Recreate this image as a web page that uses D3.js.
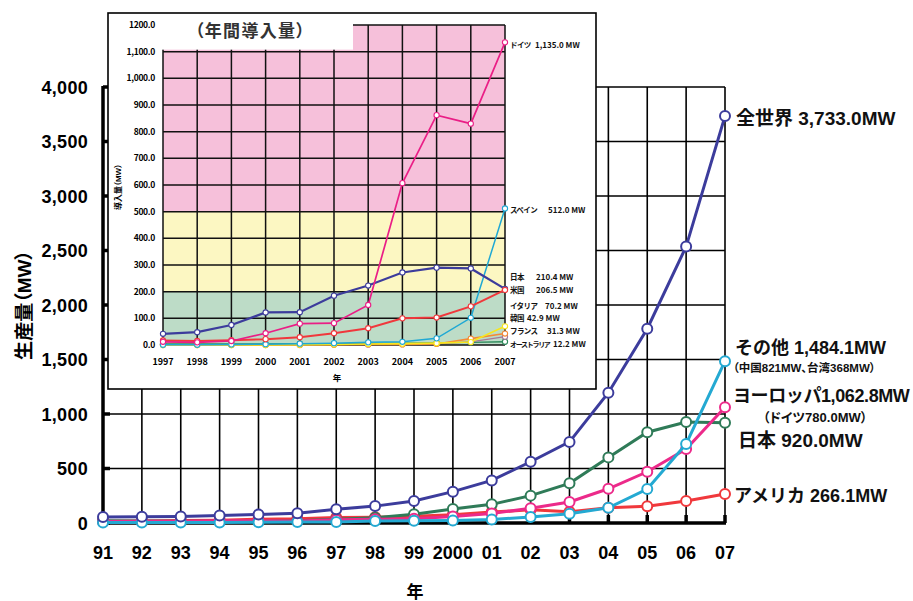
<!DOCTYPE html>
<html><head><meta charset="utf-8">
<script src="https://cdn.jsdelivr.net/npm/d3@7"></script>
<style>
html,body{margin:0;padding:0;background:#fff;}
svg{display:block;font-family:"Liberation Sans","Noto Sans CJK JP",sans-serif;}
.palt{font-feature-settings:"palt";}
</style></head>
<body><svg id="chart" width="913" height="601"></svg>
<script>
// ---------- main chart data (cell production, MW) ----------
const mainYears = ["91","92","93","94","95","96","97","98","99","2000","01","02","03","04","05","06","07"];
const world  = [55.3,57.9,60.1,69.4,77.6,88.6,125.8,154.9,201.3,287.7,390.5,561.8,744.1,1195,1782,2536,3733.0];
const japan  = [19.9,18.8,16.7,16.5,16.4,21.2,35,49,80,128.6,171.2,251.1,363.9,602,833,926,920.0];
const europe = [13.4,16.4,16.6,21.7,20.1,18.8,30.4,33.5,40,60.7,86.4,135,193,314,470,678,1062.8];
const america= [17.1,18.1,22.4,25.6,34.8,38.9,51,53.7,60.8,75,100.3,120.6,103,139,154,202,266.1];
const others = [4.9,4.6,4.4,5.6,6.3,9.7,9.4,18.7,20.5,23.4,32.6,55.1,84.2,140,312,725,1484.1];
const mainYTicks = [0,500,1000,1500,2000,2500,3000,3500,4000];
const mainYTickLabels = ["0","500","1,000","1,500","2,000","2,500","3,000","3,500","4,000"];

// ---------- inset data (annual installations, MW) ----------
const insetYears = ["1997","1998","1999","2000","2001","2002","2003","2004","2005","2006","2007"];
const deGermany  = [12,10,15,44,80,82,150,607,862,830,1135.0];
const esSpain    = [1,1,2,3,5,7,10,12,25,102,512.0];
const jpJapan    = [42,48,75,122,123,185,223,272,290,287,210.4];
const usUSA      = [17,15,18,22,29,44,63,100,103,145,206.5];
const itItaly    = [0,0,0,0,1,2,4,5,7,11,70.2];
const krKorea    = [0,0,0,0,0,1,2,2,4,24,42.9];
const frFrance   = [1,1,1,1,1,2,2,3,5,12,31.3];
const auAustralia= [4,4,4,4,5,5,6,7,8,10,12.2];
const insetYTicks = [0,100,200,300,400,500,600,700,800,900,1000,1100,1200];
const insetYTickLabels = ["0.0","100.0","200.0","300.0","400.0","500.0","600.0","700.0","800.0","900.0","1,000.0","1,100.0","1200.0"];

const svg = d3.select("#chart");

// ================= MAIN CHART =================
const x = d3.scalePoint().domain(mainYears).range([103, 725]);
const y = d3.scaleLinear().domain([0, 4000]).range([523, 87]);

const grid = svg.append("g");
grid.selectAll(".vg").data(mainYears).join("line")
  .attr("x1", d => x(d)).attr("x2", d => x(d))
  .attr("y1", y(4000)).attr("y2", y(0))
  .attr("stroke", "#000").attr("stroke-width", 1.6);
grid.selectAll(".hg").data(mainYTicks).join("line")
  .attr("x1", x.range()[0]).attr("x2", x.range()[1])
  .attr("y1", d => y(d)).attr("y2", d => y(d))
  .attr("stroke", "#000").attr("stroke-width", 1.6);
// thick axes + inward ticks
svg.append("line").attr("x1", x.range()[0]).attr("x2", x.range()[0]).attr("y1", y(4000)-1).attr("y2", y(0)+1.5)
  .attr("stroke", "#000").attr("stroke-width", 3.5);
svg.append("line").attr("x1", x.range()[0]).attr("x2", x.range()[1]+1).attr("y1", y(0)).attr("y2", y(0))
  .attr("stroke", "#000").attr("stroke-width", 3.5);
svg.append("g").selectAll("line").data(mainYTicks).join("line")
  .attr("x1", x.range()[0]).attr("x2", x.range()[0]+7)
  .attr("y1", d => y(d)).attr("y2", d => y(d)).attr("stroke", "#000").attr("stroke-width", 3.5);
svg.append("g").selectAll("line").data(mainYears).join("line")
  .attr("x1", d => x(d)).attr("x2", d => x(d))
  .attr("y1", y(0)).attr("y2", y(0)-8).attr("stroke", "#000").attr("stroke-width", 3.5);

// tick labels
svg.append("g").selectAll("text").data(mainYTicks).join("text")
  .attr("x", 88).attr("y", d => y(d) + 6.5)
  .attr("text-anchor", "end").attr("font-size", 18).attr("font-weight", "bold")
  .attr("letter-spacing", 0.3)
  .text((d, i) => mainYTickLabels[i]);
svg.append("g").selectAll("text").data(mainYears).join("text")
  .attr("x", d => x(d)).attr("y", 559)
  .attr("text-anchor", "middle").attr("font-size", 18).attr("font-weight", "bold")
  .text(d => d);
svg.append("text").attr("x", 415).attr("y", 598).attr("text-anchor", "middle")
  .attr("font-size", 17).attr("font-weight", "bold").text("年");
svg.append("text").attr("class", "palt")
  .attr("transform", "translate(31,305) rotate(-90)").attr("text-anchor", "middle")
  .attr("font-size", 19).attr("font-weight", "bold").text("生産量（MW）");

// series
const mainSeries = [
  {name: "アメリカ", values: america, color: "#f0383c"},
  {name: "日本", values: japan, color: "#2f7b58"},
  {name: "ヨーロッパ", values: europe, color: "#ec2a8a"},
  {name: "その他", values: others, color: "#24a9d2"},
  {name: "全世界", values: world, color: "#3c3c9c"}
];
const mline = d3.line().x((d, i) => x(mainYears[i])).y(d => y(d));
mainSeries.forEach(s => {
  const g = svg.append("g");
  g.append("path").attr("d", mline(s.values)).attr("fill", "none")
    .attr("stroke", s.color).attr("stroke-width", 3);
  g.selectAll("circle").data(s.values).join("circle")
    .attr("cx", (d, i) => x(mainYears[i])).attr("cy", d => y(d)).attr("r", 5)
    .attr("fill", "#fff").attr("stroke", s.color).attr("stroke-width", 2);
});

// right-hand labels
const rl = svg.append("g").attr("font-weight", "bold").attr("fill", "#111");
rl.append("text").attr("x", 736).attr("y", 125).attr("font-size", 19).text("全世界 3,733.0MW");
rl.append("text").attr("x", 735).attr("y", 354).attr("font-size", 18).text("その他 1,484.1MW");
rl.append("text").attr("class", "palt").attr("x", 733).attr("y", 372).attr("font-size", 11.5).text("（中国821MW、台湾368MW）");
rl.append("text").attr("x", 733).attr("y", 402).attr("font-size", 18).attr("letter-spacing", -0.4).text("ヨーロッパ1,062.8MW");
rl.append("text").attr("class", "palt").attr("x", 763).attr("y", 422).attr("font-size", 13).text("（ドイツ780.0MW）");
rl.append("text").attr("x", 738).attr("y", 447).attr("font-size", 19).text("日本 920.0MW");
rl.append("text").attr("x", 734).attr("y", 502).attr("font-size", 18).text("アメリカ 266.1MW");

// ================= INSET =================
const ins = svg.append("g");
ins.append("rect").attr("x", 108).attr("y", 13).attr("width", 488).attr("height", 376)
  .attr("fill", "#fff").attr("stroke", "#000").attr("stroke-width", 1.6);

const ix = d3.scalePoint().domain(insetYears).range([163, 505]);
const iy = d3.scaleLinear().domain([0, 1200]).range([345, 25]);

const bands = [[500, 1200, "#f6c0da"], [200, 500, "#fcf7c2"], [0, 200, "#bddcc7"]];
ins.selectAll(".band").data(bands).join("rect")
  .attr("x", ix.range()[0]).attr("width", ix.range()[1] - ix.range()[0])
  .attr("y", d => iy(d[1])).attr("height", d => iy(d[0]) - iy(d[1]))
  .attr("fill", d => d[2]);
ins.selectAll(".ivg").data(insetYears).join("line")
  .attr("x1", d => ix(d)).attr("x2", d => ix(d)).attr("y1", iy(1200)).attr("y2", iy(0))
  .attr("stroke", "#111").attr("stroke-width", 1.5);
ins.selectAll(".ihg").data(insetYTicks).join("line")
  .attr("x1", ix.range()[0]).attr("x2", ix.range()[1]).attr("y1", d => iy(d)).attr("y2", d => iy(d))
  .attr("stroke", "#111").attr("stroke-width", 1.5);
// title box
ins.append("rect").attr("x", 160).attr("y", 14).attr("width", 193).attr("height", iy(1100) - 16).attr("fill", "#fff");
ins.append("text").attr("class", "palt").attr("x", 195).attr("y", 37).attr("font-size", 17)
  .attr("fill", "#333").attr("font-weight", "bold").attr("letter-spacing", 1.3).text("（年間導入量）");

const nf = "'Liberation Sans Narrow','Noto Sans CJK JP',sans-serif";
ins.selectAll(".iyl").data(insetYTicks).join("text")
  .attr("x", 155).attr("y", d => iy(d) + 3).attr("text-anchor", "end")
  .attr("font-family", nf).attr("font-size", 8.5).attr("font-weight", "bold").attr("letter-spacing", -0.3)
  .text((d, i) => insetYTickLabels[i]);
ins.selectAll(".ixl").data(insetYears).join("text")
  .attr("x", d => ix(d)).attr("y", 365).attr("text-anchor", "middle")
  .attr("font-family", nf).attr("font-size", 9).attr("font-weight", "bold")
  .text(d => d);
ins.append("text").attr("x", 337).attr("y", 381).attr("text-anchor", "middle")
  .attr("font-size", 8.5).attr("font-weight", "bold").text("年");
ins.append("text").attr("class", "palt").attr("transform", "translate(121,187) rotate(-90)")
  .attr("text-anchor", "middle").attr("font-size", 8).attr("font-weight", "bold").text("導入量（MW）");

const insetSeries = [
  {values: auAustralia, color: "#2e8a5c", w: 1.3},
  {values: frFrance, color: "#a67898", w: 1.3},
  {values: krKorea, color: "#f48a36", w: 1.6},
  {values: itItaly, color: "#f8e61c", w: 1.6},
  {values: esSpain, color: "#1fa8d4", w: 1.5},
  {values: jpJapan, color: "#3c3c9c", w: 2.2},
  {values: usUSA, color: "#f0383c", w: 2},
  {values: deGermany, color: "#ea1e86", w: 1.7}
];
const iline = d3.line().x((d, i) => ix(insetYears[i])).y(d => iy(d));
insetSeries.forEach(s => {
  const g = ins.append("g");
  g.append("path").attr("d", iline(s.values)).attr("fill", "none")
    .attr("stroke", s.color).attr("stroke-width", s.w);
  g.selectAll("circle").data(s.values).join("circle")
    .attr("cx", (d, i) => ix(insetYears[i])).attr("cy", d => iy(d)).attr("r", 2.6)
    .attr("fill", "#fff").attr("stroke", s.color).attr("stroke-width", 1.1);
});

// inset end labels
const insetLabels = [
  {name: "ドイツ", val: "1,135.0 MW", y: 48, vx: 535},
  {name: "スペイン", val: "512.0 MW", y: 213, vx: 548},
  {name: "日本", val: "210.4 MW", y: 280, vx: 536},
  {name: "米国", val: "206.5 MW", y: 293, vx: 536},
  {name: "イタリア", val: "70.2 MW", y: 309, vx: 545},
  {name: "韓国", val: "42.9 MW", y: 321, vx: 527},
  {name: "フランス", val: "31.3 MW", y: 334, vx: 547},
  {name: "オーストラリア", val: "12.2 MW", y: 347, vx: 553}
];
const il = ins.append("g").attr("font-weight", "bold").attr("fill", "#111");
insetLabels.forEach(l => {
  const long = l.name.length > 5;
  il.append("text").attr("x", 510).attr("y", l.y)
    .attr("font-size", long ? 7 : 7.5).attr("letter-spacing", long ? -1.3 : -0.6)
    .text(l.name);
  il.append("text").attr("x", l.vx).attr("y", l.y)
    .attr("font-family", nf).attr("font-size", 8).text(l.val);
});
</script></body></html>
